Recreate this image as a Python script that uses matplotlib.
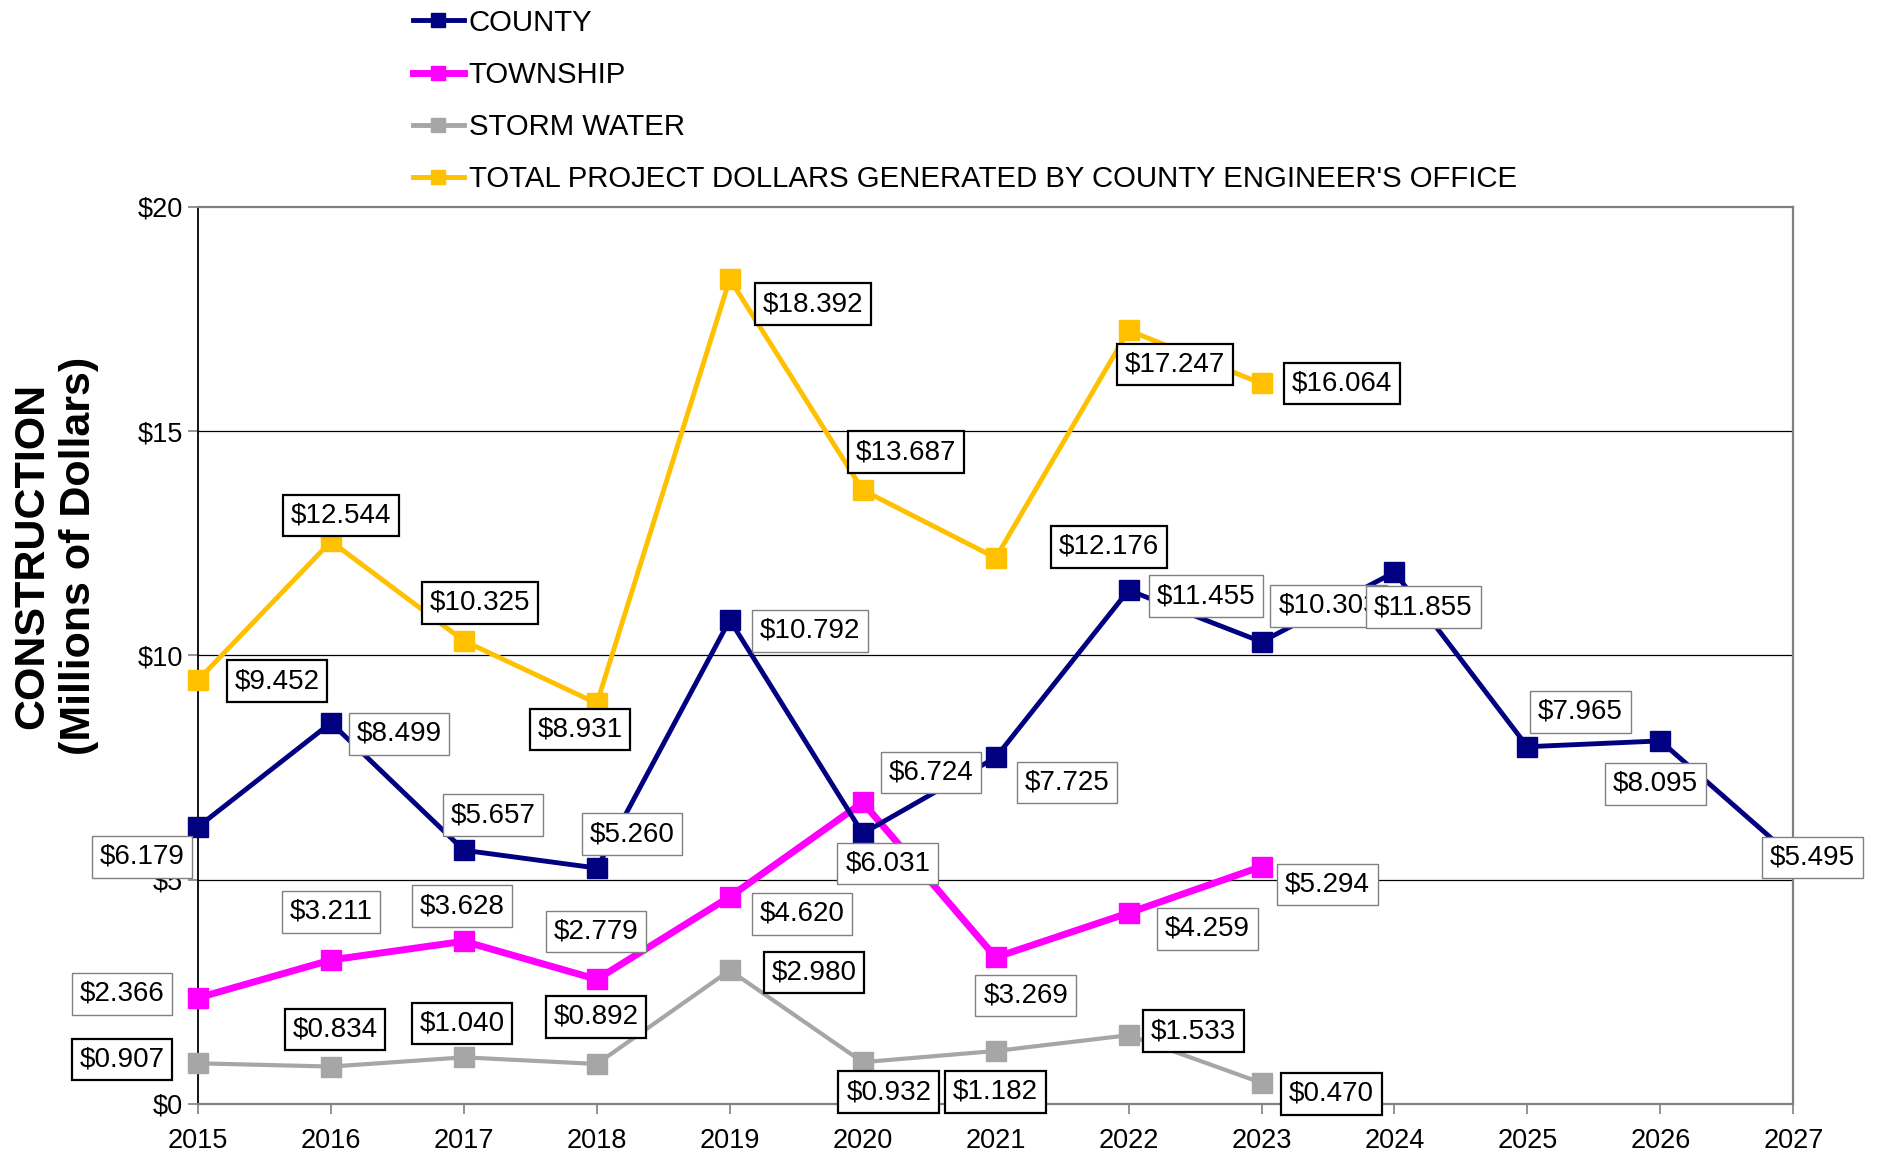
import matplotlib
matplotlib.use("Agg")
import matplotlib.pyplot as plt
from matplotlib.lines import Line2D

plt.rcParams['font.family'] = ['Liberation Sans', 'DejaVu Sans']

# data (millions of dollars)
years = [2015, 2016, 2017, 2018, 2019, 2020, 2021, 2022, 2023, 2024, 2025, 2026, 2027]
county = [6.179, 8.499, 5.657, 5.260, 10.792, 6.031, 7.725, 11.455, 10.303, 11.855, 7.965, 8.095, 5.495]
township = [2.366, 3.211, 3.628, 2.779, 4.620, 6.724, 3.269, 4.259, 5.294]
storm = [0.907, 0.834, 1.040, 0.892, 2.980, 0.932, 1.182, 1.533, 0.470]
total = [9.452, 12.544, 10.325, 8.931, 18.392, 13.687, 12.176, 17.247, 16.064]
yticks = [0, 5, 10, 15, 20]

# label offsets in pixels (layout only)
county_off = [(-56, -30), (68, -11), (29, 35), (35, 34), (80, -11), (25, -30), (71, -25),
              (77, -6), (67, 36), (29, -35), (53, 35), (-5, -43), (19, 0)]
township_off = [(-76, 4), (0, 48), (-2, 35), (-1, 48), (72, -17), (68, 30), (30, -38),
                (79, -16), (66, -18)]
storm_off = [(-76, 4), (4, 37), (-2, 34), (-1, 47), (84, -2), (26, -30), (0, -41),
             (65, 4), (70, -11)]
total_off = [(79, -1), (10, 26), (16, 38), (-17, -26), (83, -25), (43, 38), (113, 11),
             (46, -34), (80, 0)]

NAVY = '#000080'
MAGENTA = '#FF00FF'
GRAY = '#A6A6A6'
GOLD = '#FFC000'

fig = plt.figure(figsize=(18.79, 11.56), dpi=100)
ax = fig.add_axes([0.1054, 0.045, 0.849, 0.776])

ax.plot(years[:len(storm)], storm, color=GRAY, lw=3, marker='s', ms=14, clip_on=False, zorder=3)
ax.plot(years[:len(township)], township, color=MAGENTA, lw=5, marker='s', ms=15, clip_on=False, zorder=4)
ax.plot(years, county, color=NAVY, lw=3.5, marker='s', ms=14, clip_on=False, zorder=5)
ax.plot(years[:len(total)], total, color=GOLD, lw=3.5, marker='s', ms=14, clip_on=False, zorder=6)


def put_labels(vals, offs, edge, lw):
    for x, v, (dx, dy) in zip(years, vals, offs):
        ax.annotate(f'${v:.3f}', (x, v), xytext=(dx, dy), textcoords='offset pixels',
                    ha='center', va='center', fontsize=20, zorder=10, annotation_clip=False,
                    bbox=dict(boxstyle='square,pad=0.28', fc='white', ec=edge, lw=lw))


put_labels(storm, storm_off, 'black', 1.6)
put_labels(township, township_off, '#808080', 1.0)
put_labels(county, county_off, '#808080', 1.0)
put_labels(total, total_off, 'black', 1.6)

ax.set_xlim(2015, 2027)
ax.set_ylim(0, 20)
ax.set_xticks(years)
ax.set_xticklabels([str(y) for y in years])
ax.set_yticks(yticks)
ax.set_yticklabels([f'${t}' for t in yticks])
ax.tick_params(axis='both', direction='out', length=7, color='#808080', width=1.2, labelsize=19.5)
ax.tick_params(axis='y', pad=4)
ax.tick_params(axis='x', pad=10)

for t in yticks[1:-1]:
    ax.axhline(t, color='black', lw=0.9, zorder=1)

ax.spines['left'].set_color('black')
ax.spines['left'].set_linewidth(1.3)
for s in ['top', 'right', 'bottom']:
    ax.spines[s].set_color('#808080')
    ax.spines[s].set_linewidth(1.6)

fig.text(0.0295, 0.519, 'CONSTRUCTION\n(Millions of Dollars)', rotation=90, ha='center', va='center',
         fontsize=31, fontweight='bold', multialignment='center', linespacing=1.2)

handles = [
    Line2D([], [], color=NAVY, lw=3.5, marker='s', ms=10),
    Line2D([], [], color=MAGENTA, lw=5, marker='s', ms=10),
    Line2D([], [], color=GRAY, lw=3.5, marker='s', ms=10),
    Line2D([], [], color=GOLD, lw=3.5, marker='s', ms=10),
]
labels = ['COUNTY', 'TOWNSHIP', 'STORM WATER', "TOTAL PROJECT DOLLARS GENERATED BY COUNTY ENGINEER'S OFFICE"]
fig.legend(handles, labels, loc='upper left', bbox_to_anchor=(0.218, 0.995), frameon=False,
           fontsize=21.2, handlelength=1.75, handletextpad=0.15, labelspacing=0.82,
           borderpad=0.1, borderaxespad=0)

fig.savefig('out.png', dpi=100)
